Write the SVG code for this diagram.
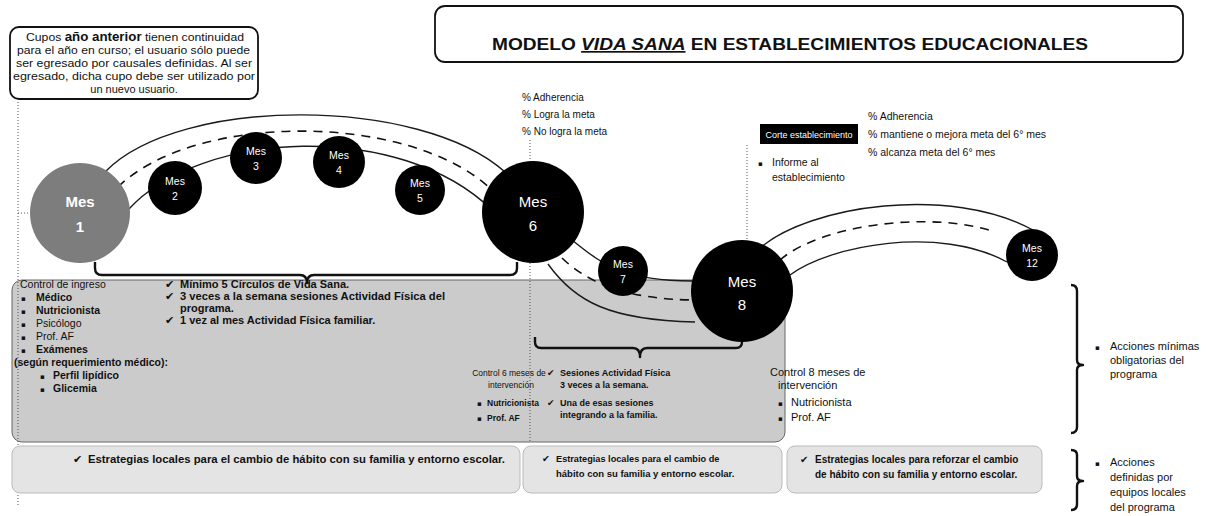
<svg xmlns="http://www.w3.org/2000/svg" width="1206" height="516" viewBox="0 0 1206 516">
<style>
  text { font-family: "Liberation Sans", "DejaVu Sans", sans-serif; fill: #111; }
  .sm { font-size: 9.5px; }
  .t10 { font-size: 10px; }
  .t105 { font-size: 10.5px; }
  .t11 { font-size: 11px; }
  .b { font-weight: bold; }
  .note { font-size: 11px; }
  .mesS { font-size: 10.5px; fill: #fff; text-anchor: middle; }
  .mesL { font-size: 15px; fill: #fff; text-anchor: middle; }
  .road { fill: none; stroke: #1a1a1a; stroke-width: 1.4; }
  .dash { fill: none; stroke: #111; stroke-width: 1.6; stroke-dasharray: 9 7; }
  .dot { fill: none; stroke: #555; stroke-width: 1; stroke-dasharray: 1 2; }
  .brk { fill: none; stroke: #111; stroke-width: 2.4; stroke-linejoin: round; }
  .circ { fill: #000; }
  .sym { font-family: "DejaVu Sans", sans-serif; }
  .bul { font-family: "DejaVu Sans", sans-serif; font-size: 7px; }
</style>

<!-- Shaded action area (drawn first so road lines pass over it) -->
<g id="acciones-minimas">
  <rect x="12" y="280" width="773" height="162" rx="10" fill="#cbcbcb" stroke="#666" stroke-width="1"/>
  <text class="t105" x="20" y="288">Control de ingreso</text>
  <text class="bul" x="21" y="301">▪</text><text class="t105 b" x="36" y="301">Médico</text>
  <text class="bul" x="21" y="314">▪</text><text class="t105 b" x="36" y="314">Nutricionista</text>
  <text class="bul" x="21" y="327">▪</text><text class="t105" x="36" y="327">Psicólogo</text>
  <text class="bul" x="21" y="340">▪</text><text class="t105" x="36" y="340">Prof. AF</text>
  <text class="bul" x="21" y="353">▪</text><text class="t105 b" x="36" y="353">Exámenes</text>
  <text class="t105 b" x="14" y="366">(según requerimiento médico):</text>
  <text class="bul" x="40" y="379">▪</text><text class="t105 b" x="53" y="379">Perfil lipídico</text>
  <text class="bul" x="40" y="392">▪</text><text class="t105 b" x="53" y="392">Glicemia</text>

  <text class="t11 sym" x="165" y="288">✔</text><text class="t11 b" x="180" y="288">Mínimo 5 Círculos de Vida Sana.</text>
  <text class="t11 sym" x="165" y="300">✔</text><text class="t11 b" x="180" y="300" textLength="265" lengthAdjust="spacingAndGlyphs">3 veces a la semana sesiones Actividad Física del</text>
  <text class="t11 b" x="180" y="312">programa.</text>
  <text class="t11 sym" x="165" y="324">✔</text><text class="t11 b" x="180" y="324">1 vez al mes Actividad Física familiar.</text>

  <text x="509" y="376" font-size="8.5" text-anchor="middle">Control 6 meses de</text>
  <text x="511" y="388" font-size="8.5" text-anchor="middle">intervención</text>
  <text class="bul" x="477" y="406">▪</text><text x="487" y="406" font-size="8.5" class="b">Nutricionista</text>
  <text class="bul" x="477" y="421">▪</text><text x="487" y="421" font-size="8.5" class="b">Prof. AF</text>

  <text class="sym" x="547" y="376" font-size="9">✔</text><text class="b" x="560" y="376" font-size="9">Sesiones Actividad Física</text>
  <text class="b" x="560" y="388" font-size="9">3 veces a la semana.</text>
  <text class="sym" x="547" y="406" font-size="9">✔</text><text class="b" x="560" y="406" font-size="9">Una de esas sesiones</text>
  <text class="b" x="560" y="418" font-size="9">integrando a la familia.</text>

  <text class="t11" x="770" y="376">Control 8 meses de</text>
  <text class="t11" x="778" y="389">intervención</text>
  <text class="bul" x="778" y="406">▪</text><text class="t11" x="791" y="406">Nutricionista</text>
  <text class="bul" x="778" y="421">▪</text><text class="t11" x="791" y="421">Prof. AF</text>
</g>

<!-- Connectors -->
<g id="connectors">
  <path class="dot" d="M18 102 V505 M18 213 H30"/>
  <path class="dot" d="M530 140 V162 M530 263 V442"/>
  <path class="dot" d="M747 145 V241"/>
  <!-- road Mes1 -> Mes6 -->
  <path class="road" d="M106 171 C180 96, 420 96, 505 172"/>
  <path class="dash" d="M118 187 C195 112, 410 112, 492 190"/>
  <path class="road" d="M128 210 C200 130, 400 120, 492 210"/>
  <!-- road Mes6 -> Mes8 -->
  <path class="road" d="M572 240 C600 262, 620 281, 692 281"/>
  <path class="dash" d="M562 258 C590 285, 630 299, 693 300"/>
  <path class="road" d="M548 264 C575 302, 610 320, 695 322"/>
  <!-- road Mes8 -> Mes12 -->
  <path class="road" d="M760 248 C810 205, 950 185, 1033 230"/>
  <path class="dash" d="M780 260 C820 225, 930 210, 995 232"/>
  <path class="road" d="M790 275 C830 245, 940 225, 1007 262"/>
  <!-- brackets -->
  <path class="brk" d="M95 262 V268 Q95 275 102 275 H300 Q307 275 307 283 Q307 275 314 275 H510 Q517 275 517 268 V262"/>
  <path class="brk" d="M535 337 V342 Q535 348 541 348 H633 Q640 348 640 357 Q640 348 647 348 H736 Q742 348 742 342 V337"/>
  <path class="brk" d="M1071 285 Q1077 285 1077 291 V360 Q1077 365 1083 365 Q1077 365 1077 370 V427 Q1077 433 1071 433"/>
  <path class="brk" d="M1071 450 Q1077 450 1077 455 V476 Q1077 481 1083 481 Q1077 481 1077 486 V504 Q1077 510 1071 510"/>
</g>

<!-- Note box -->
<g id="note">
  <rect x="10" y="27" width="248" height="72" rx="9" fill="#fff" stroke="#111" stroke-width="1.8"/>
  <text class="note" x="26" y="41" textLength="218" lengthAdjust="spacingAndGlyphs">Cupos <tspan class="b" font-size="12">año anterior</tspan> tienen continuidad</text>
  <text class="note" x="17" y="54" textLength="233" lengthAdjust="spacingAndGlyphs">para el año en curso; el usuario sólo puede</text>
  <text class="note" x="16" y="67" textLength="236" lengthAdjust="spacingAndGlyphs">ser egresado por causales definidas. Al ser</text>
  <text class="note" x="13" y="80" textLength="242" lengthAdjust="spacingAndGlyphs">egresado, dicha cupo debe ser utilizado por</text>
  <text class="note" x="134" y="93" text-anchor="middle">un nuevo usuario.</text>
</g>

<!-- Title -->
<g id="title">
  <rect x="435" y="6" width="748" height="56" rx="10" fill="#fff" stroke="#111" stroke-width="1.8"/>
  <text x="492" y="50" font-size="17" class="b" textLength="596" lengthAdjust="spacingAndGlyphs">MODELO <tspan font-style="italic" text-decoration="underline">VIDA SANA</tspan> EN ESTABLECIMIENTOS EDUCACIONALES</text>
</g>

<!-- Indicators at month 6 -->
<g id="ind6">
  <text class="t10" x="522" y="101">% Adherencia</text>
  <text class="t10" x="522" y="118">% Logra la meta</text>
  <text class="t10" x="522" y="135">% No logra la meta</text>
</g>

<!-- Corte establecimiento -->
<g id="corte">
  <rect x="760" y="124" width="98" height="20" fill="#000"/>
  <text x="809" y="137.5" font-size="9" text-anchor="middle" style="fill:#fff">Corte establecimiento</text>
  <text class="t105" x="868" y="120">% Adherencia</text>
  <text class="t105" x="868" y="138">% mantiene o mejora meta del 6° mes</text>
  <text class="t105" x="868" y="156">% alcanza meta del 6° mes</text>
  <text class="bul" x="758" y="166">▪</text>
  <text class="t105" x="772" y="166">Informe al</text>
  <text class="t105" x="772" y="181">establecimiento</text>
</g>

<!-- Local strategy boxes -->
<g id="estrategias-1">
  <rect x="12" y="446" width="508" height="47" rx="8" fill="#e4e4e4" stroke="#bbb" stroke-width="1"/>
  <text class="t11 sym" x="73" y="463">✔</text><text class="t11 b" x="88" y="463" textLength="417" lengthAdjust="spacingAndGlyphs">Estrategias locales para el cambio de hábito con su familia y entorno escolar.</text>
</g>
<g id="estrategias-2">
  <rect x="523" y="446" width="259" height="47" rx="8" fill="#e4e4e4" stroke="#bbb" stroke-width="1"/>
  <text class="sm sym" x="542" y="462">✔</text><text class="b" font-size="9.2" x="556" y="462">Estrategias locales para el cambio de</text>
  <text class="sm b" x="556" y="477">hábito con su familia y entorno escolar.</text>
</g>
<g id="estrategias-3">
  <rect x="787" y="446" width="255" height="47" rx="8" fill="#e4e4e4" stroke="#bbb" stroke-width="1"/>
  <text class="t10 sym" x="800" y="463">✔</text><text class="t10 b" x="815" y="463">Estrategias locales para reforzar el cambio</text>
  <text class="t10 b" x="815" y="478">de hábito con su familia y entorno escolar.</text>
</g>

<!-- Legend texts -->
<g id="legend-minimas">
  <text class="bul" x="1095" y="350">▪</text>
  <text class="t11" x="1110" y="350">Acciones mínimas</text>
  <text class="t11" x="1110" y="364">obligatorias del</text>
  <text class="t11" x="1110" y="378">programa</text>
</g>
<g id="legend-locales">
  <text class="bul" x="1095" y="466">▪</text>
  <text class="t11" x="1110" y="466">Acciones</text>
  <text class="t11" x="1110" y="481">definidas por</text>
  <text class="t11" x="1110" y="496">equipos locales</text>
  <text class="t11" x="1110" y="511">del programa</text>
</g>

<!-- Month nodes -->
<g id="mes1"><circle cx="80" cy="213" r="50" fill="#7d7d7d"/><text class="mesL b" x="80" y="207">Mes</text><text class="mesL b" x="80" y="232">1</text></g>
<g id="mes2"><circle class="circ" cx="175" cy="188" r="27"/><text class="mesS" x="175" y="185">Mes</text><text class="mesS" x="175" y="200">2</text></g>
<g id="mes3"><circle class="circ" cx="256" cy="158" r="26"/><text class="mesS" x="256" y="155">Mes</text><text class="mesS" x="256" y="170">3</text></g>
<g id="mes4"><circle class="circ" cx="339" cy="162" r="26"/><text class="mesS" x="339" y="159">Mes</text><text class="mesS" x="339" y="174">4</text></g>
<g id="mes5"><circle class="circ" cx="420" cy="190" r="25"/><text class="mesS" x="420" y="187">Mes</text><text class="mesS" x="420" y="202">5</text></g>
<g id="mes6"><circle class="circ" cx="533" cy="212" r="51"/><text class="mesL" x="533" y="207">Mes</text><text class="mesL" x="533" y="231">6</text></g>
<g id="mes7"><circle class="circ" cx="623" cy="271" r="25"/><text class="mesS" x="623" y="268">Mes</text><text class="mesS" x="623" y="283">7</text></g>
<g id="mes8"><circle class="circ" cx="742" cy="291" r="51"/><text class="mesL" x="742" y="287">Mes</text><text class="mesL" x="742" y="310">8</text></g>
<g id="mes12"><circle class="circ" cx="1032" cy="255" r="26"/><text class="mesS" x="1032" y="252">Mes</text><text class="mesS" x="1032" y="267">12</text></g>
</svg>
